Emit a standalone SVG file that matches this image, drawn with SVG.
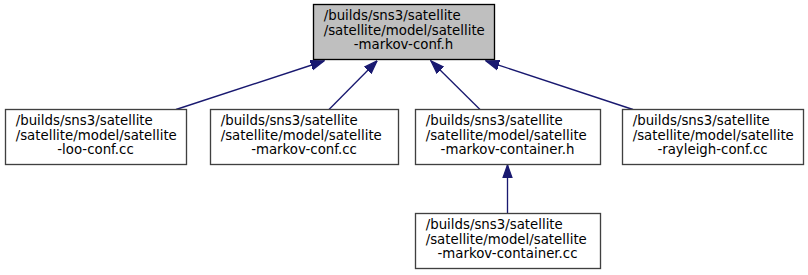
<svg xmlns="http://www.w3.org/2000/svg" width="808" height="275" viewBox="0 0 808 275">
  <style>
    .box { fill: #ffffff; stroke: #404040; stroke-width: 1.33; }
    .root { fill: #bfbfbf; stroke: #000000; stroke-width: 1.33; }
    text { font-family: "DejaVu Sans", "Liberation Sans", sans-serif; font-size: 13.33px; fill: #000000; }
    .l { text-anchor: start; }
    .c { text-anchor: middle; }
    .edge { stroke: #191970; stroke-width: 1.33; fill: none; marker-end: url(#arrow); }
  </style>
  <defs>
    <marker id="arrow" markerUnits="userSpaceOnUse" viewBox="0 -6 14 12" refX="13.3" refY="0" markerWidth="14" markerHeight="12" orient="auto">
      <path d="M0,-4.67 L13.3,0 L0,4.67 Z" fill="#191970" stroke="#191970" stroke-width="1.33"/>
    </marker>
  </defs>

  <!-- dependency edges (child -> included header) -->
  <g id="edges">
    <line class="edge" x1="176" y1="109.5" x2="324" y2="61"/>
    <line class="edge" x1="329" y1="109.5" x2="377" y2="61"/>
    <line class="edge" x1="480" y1="109.5" x2="431" y2="61"/>
    <line class="edge" x1="633" y1="109.5" x2="486" y2="61"/>
    <line class="edge" x1="507.5" y1="213.5" x2="507.5" y2="165"/>
  </g>

  <g id="node_markov_conf_h">
    <rect class="root" x="313.5" y="4.5" width="181" height="55"/>
    <text class="l" x="323.7" y="20">/builds/sns3/satellite</text>
    <text class="l" x="323.7" y="34.7">/satellite/model/satellite</text>
    <text class="c" x="403.5" y="49.3">-markov-conf.h</text>
  </g>

  <g id="node_loo_conf_cc">
    <rect class="box" x="5.5" y="109.5" width="181" height="55"/>
    <text class="l" x="15.7" y="125">/builds/sns3/satellite</text>
    <text class="l" x="15.7" y="139.7">/satellite/model/satellite</text>
    <text class="c" x="95.5" y="154.3">-loo-conf.cc</text>
  </g>

  <g id="node_markov_conf_cc">
    <rect class="box" x="210.5" y="109.5" width="188" height="55"/>
    <text class="l" x="220.7" y="125">/builds/sns3/satellite</text>
    <text class="l" x="220.7" y="139.7">/satellite/model/satellite</text>
    <text class="c" x="304" y="154.3">-markov-conf.cc</text>
  </g>

  <g id="node_markov_container_h">
    <rect class="box" x="415.5" y="109.5" width="185" height="55"/>
    <text class="l" x="425.7" y="125">/builds/sns3/satellite</text>
    <text class="l" x="425.7" y="139.7">/satellite/model/satellite</text>
    <text class="c" x="507.5" y="154.3">-markov-container.h</text>
  </g>

  <g id="node_rayleigh_conf_cc">
    <rect class="box" x="622.5" y="109.5" width="181" height="55"/>
    <text class="l" x="632.7" y="125">/builds/sns3/satellite</text>
    <text class="l" x="632.7" y="139.7">/satellite/model/satellite</text>
    <text class="c" x="712.5" y="154.3">-rayleigh-conf.cc</text>
  </g>

  <g id="node_markov_container_cc">
    <rect class="box" x="415.5" y="213.5" width="185" height="55"/>
    <text class="l" x="425.7" y="229">/builds/sns3/satellite</text>
    <text class="l" x="425.7" y="243.7">/satellite/model/satellite</text>
    <text class="c" x="507.5" y="258.3">-markov-container.cc</text>
  </g>
</svg>
